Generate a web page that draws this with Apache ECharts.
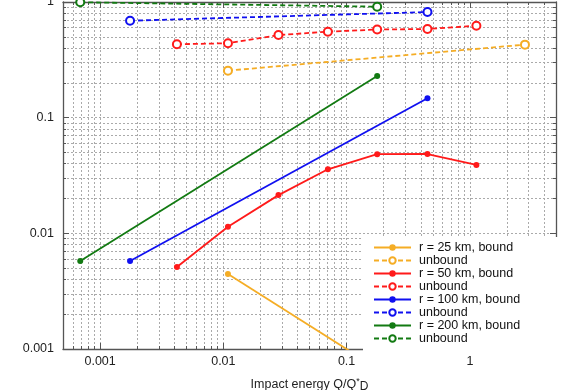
<!DOCTYPE html>
<html lang="en">
<head>
<meta charset="UTF-8">
<title>Impact energy vs fraction</title>
<style>
  html, body { margin: 0; padding: 0; background: #fff; }
  #main { width: 563px; height: 390px; }
</style>
</head>
<body>
<div id="main"></div>
<script src="https://cdn.jsdelivr.net/npm/echarts@6/dist/echarts.min.js"></script>
<script>
// values, x = Q/Q*D
var r25BoundX = [0.0109, 0.177];
var r25BoundY = [0.00445, 0.00068];
var r25UnboundX = [0.0109, 2.8];
var r25UnboundY = [0.255, 0.428];

var r50X = [0.0042, 0.0109, 0.028, 0.0705, 0.177, 0.453, 1.13];
var r50BoundY = [0.00512, 0.0114, 0.0214, 0.0358, 0.0483, 0.0485, 0.039];
var r50UnboundY = [0.431, 0.44, 0.518, 0.554, 0.578, 0.584, 0.624];

var r100X = [0.00175, 0.453];
var r100BoundY = [0.00577, 0.147];
var r100UnboundY = [0.689, 0.819];

var r200X = [0.00069, 0.177];
var r200BoundY = [0.00577, 0.229];
var r200UnboundY = [0.995, 0.911];

var xTicks = [0.001, 0.01, 0.1, 1];
var yTicks = [0.001, 0.01, 0.1, 1];

var font = 'Liberation Sans, Arial, sans-serif';
var gridColor = '#aaa';
var axisColor = '#555';

function zip(xs, ys) {
    return xs.map(function (x, i) { return [x, ys[i]]; });
}

// 2..9 x 10^n inside [lo, hi]
function minorValues(lo, hi) {
    var out = [];
    for (var d = -5; d <= 1; d++) {
        for (var k = 2; k <= 9; k++) {
            var v = k * Math.pow(10, d);
            if (v > lo * 1.0001 && v < hi * 0.9999) out.push(v);
        }
    }
    return out;
}

function fmt(v) {
    return String(parseFloat(Number(v).toPrecision(6)));
}

function bound(name, color, xs, ys) {
    return {
        type: 'line', name: name, data: zip(xs, ys),
        symbol: 'circle', symbolSize: 6,
        lineStyle: { color: color, width: 1.8 },
        itemStyle: { color: color },
        clip: true, animation: false
    };
}

function unbound(name, color, xs, ys) {
    return {
        type: 'line', name: name, data: zip(xs, ys),
        symbol: 'emptyCircle', symbolSize: 8,
        lineStyle: { color: color, width: 1.8, type: [5, 3] },
        itemStyle: { color: color, borderWidth: 1.6 },
        clip: true, animation: false
    };
}

// one axis per (position, major/minor) so ticks can have two lengths
function makeAxis(pos, min, max, ticks, major, main) {
    var vals = major ? ticks : minorValues(min, max);
    return {
        type: 'log', position: pos, min: min, max: max, logBase: 10,
        axisLine: { show: major, lineStyle: { color: axisColor, width: 1.3 } },
        axisTick: { show: true, inside: true, length: major ? 6 : 3, customValues: vals,
                    lineStyle: { color: axisColor, width: 1 } },
        axisLabel: main ? { show: true, customValues: ticks, formatter: fmt, color: '#222',
                            fontFamily: font, fontSize: 12.5,
                            margin: (pos === 'left' ? 9 : 6) } : { show: false },
        splitLine: (pos === 'bottom' || pos === 'left')
            ? { show: true, lineStyle: { color: gridColor, width: 1, type: [2, 2] } }
            : { show: false },
        minorTick: { show: false }
    };
}

var xAxes = [
    makeAxis('bottom', 0.0005, 5, xTicks, true, true),
    makeAxis('bottom', 0.0005, 5, xTicks, false, false),
    makeAxis('top', 0.0005, 5, xTicks, true, false),
    makeAxis('top', 0.0005, 5, xTicks, false, false)
];
xAxes[0].name = 'Impact energy Q/Q{sup|*}{sub|D}';
xAxes[0].nameLocation = 'middle';
xAxes[0].nameGap = 24;
xAxes[0].nameTextStyle = {
    fontFamily: font, fontSize: 12.5, color: '#222', lineHeight: 16,
    rich: {
        sup: { fontFamily: font, fontSize: 9, color: '#222', verticalAlign: 'top', lineHeight: 16 },
        sub: { fontFamily: font, fontSize: 12, color: '#222', verticalAlign: 'bottom', lineHeight: 16, padding: [8, 0, 0, 0] }
    }
};

var yAxes = [
    makeAxis('left', 0.001, 1, yTicks, true, true),
    makeAxis('left', 0.001, 1, yTicks, false, false),
    makeAxis('right', 0.001, 1, yTicks, true, false),
    makeAxis('right', 0.001, 1, yTicks, false, false)
];

var series = [
    bound('r = 25 km, bound', '#f5ad25', r25BoundX, r25BoundY),
    unbound('unbound 25', '#f5ad25', r25UnboundX, r25UnboundY),
    bound('r = 50 km, bound', '#ff1a1a', r50X, r50BoundY),
    unbound('unbound 50', '#ff1a1a', r50X, r50UnboundY),
    bound('r = 100 km, bound', '#1010f0', r100X, r100BoundY),
    unbound('unbound 100', '#1010f0', r100X, r100UnboundY),
    bound('r = 200 km, bound', '#127a12', r200X, r200BoundY),
    unbound('unbound 200', '#127a12', r200X, r200UnboundY)
];

var myChart = echarts.init(document.getElementById('main'), null, { renderer: 'canvas' });
var option = {
    animation: false,
    backgroundColor: '#fff',
    grid: { left: 63, right: 7, top: 2, bottom: 41, containLabel: false, outerBoundsMode: 'none' },
    xAxis: xAxes,
    yAxis: yAxes,
    legend: {
        orient: 'vertical', left: 363, top: 237,
        padding: [4, 44, 6, 10],
        backgroundColor: '#fff',
        itemWidth: 37, itemHeight: 8, itemGap: 0,
        textStyle: { fontFamily: font, fontSize: 12.5, lineHeight: 12.8, color: '#111', padding: [0, 0, 0, 3] },
        formatter: function (name) {
            return name.indexOf('unbound') === 0 ? 'unbound' : name;
        },
        data: series.map(function (s) { return s.name; })
    },
    series: series
};
myChart.setOption(option);
</script>
</body>
</html>
